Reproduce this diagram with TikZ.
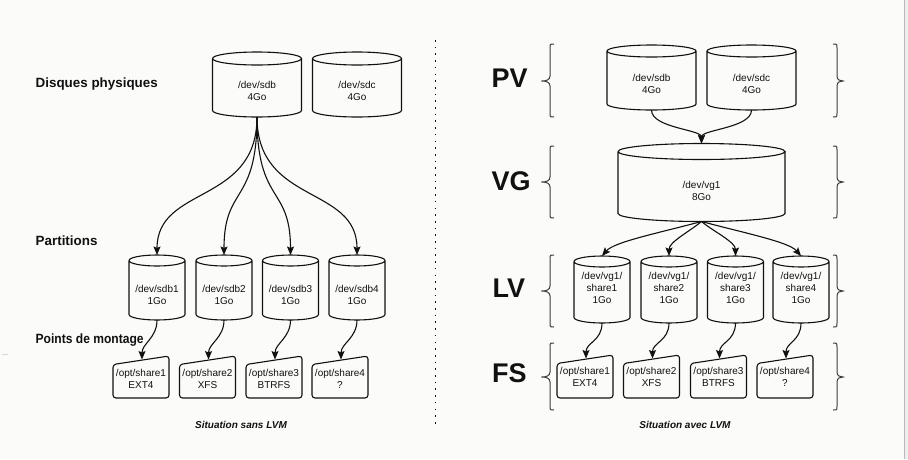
\documentclass[tikz,border=0pt]{standalone}
\usepackage{fontspec}
\setmainfont{Liberation Sans}
\usetikzlibrary{arrows.meta,calc}

\definecolor{paper}{RGB}{251,251,249}
\definecolor{ink}{RGB}{17,17,17}
\definecolor{bracecol}{RGB}{60,60,60}
\definecolor{edgeline}{RGB}{185,185,185}
\definecolor{edgefill}{RGB}{238,238,238}
\definecolor{faint}{RGB}{215,215,215}

% cylinder outline around a named node; #2 = half height of the ellipses (pt)
\newcommand\drawdisk[2]{%
  \draw[outline] let \p1=(#1.north west), \p2=(#1.south east), \n1={(\x2-\x1)/2} in
    ({\x1},{\y1-#2pt}) arc[start angle=180, end angle=-180, x radius=\n1, y radius=#2pt]
    ({\x1},{\y1-#2pt}) -- ({\x1},{\y2+#2pt})
      arc[start angle=180, end angle=360, x radius=\n1, y radius=#2pt]
      -- ({\x2},{\y1-#2pt});
}
% mount point box with slanted top edge
\newcommand\drawmount[1]{%
  \draw[outline, rounded corners=3pt] let \p1=(#1.north west), \p2=(#1.south east) in
    ({\x1},{\y1-8.5pt}) -- ({\x2},{\y1}) -- ({\x2},{\y2}) -- ({\x1},{\y2}) -- cycle;
}
% curly braces: top, middle, bottom
\newcommand\leftbrace[3]{%
  \draw[bracket] (554,#1) .. controls (550,#1) .. (550,#1+4) -- (550,#2-5)
    .. controls (550,#2-1) and (546,#2) .. (541.5,#2)
    .. controls (546,#2) and (550,#2+1) .. (550,#2+5)
    -- (550,#3-4) .. controls (550,#3) .. (554,#3);
}
\newcommand\rightbrace[3]{%
  \draw[bracket] (833,#1) .. controls (837,#1) .. (837,#1+4) -- (837,#2-5)
    .. controls (837,#2-1) and (840,#2) .. (843,#2)
    .. controls (840,#2) and (837,#2+1) .. (837,#2+5)
    -- (837,#3-4) .. controls (837,#3) .. (833,#3);
}

\tikzset{
  outline/.style={draw=ink, line width=1.1pt},
  bracket/.style={draw=bracecol, line width=1pt},
  disk/.style 2 args={minimum width=#1, minimum height=#2, inner sep=0pt, outer sep=0pt},
  lbl/.style={font=\fontsize{10}{12}\selectfont, align=center, inner sep=0pt, text=ink},
  flow/.style={draw=ink, line width=1.1pt, -{Stealth[length=8.5pt,width=7pt,inset=1.5pt]}},
  heading/.style={font=\fontsize{13.4}{16}\selectfont\bfseries, anchor=base west, inner sep=0pt, text=ink},
  layer/.style={font=\fontsize{27}{30}\selectfont\bfseries, anchor=base west, inner sep=0pt, text=ink},
  caption/.style={font=\fontsize{10}{12}\selectfont\bfseries\itshape, anchor=base, inner sep=0pt, text=ink},
}

\begin{document}
\begin{tikzpicture}[x=1pt,y=-1pt]
  \fill[paper] (0,0) rectangle (908,459);
  \useasboundingbox (0,0) rectangle (908,459);
  \fill[edgefill] (904,0) rectangle (908,459);
  \draw[edgeline, line width=1pt] (904.5,0) -- (904.5,459);
  \draw[faint, line width=1pt] (2,354.5) -- (8,354.5);

  % separator
  \draw[ink, line width=1.6pt, dash pattern=on 1.6pt off 5.1pt] (435.5,40) -- (435.5,425);

  % ---------- without LVM ----------
  \node[heading] (hdisk) at (35.5,87) {Disques physiques};
  \node[heading] (hpart) at (35.5,245.5) {Partitions};
  \node[heading] (hmnt) at (35.5,343.5) {\scalebox{0.9}[1]{Points de montage}};

  \node[disk={89pt}{65pt}, label={[lbl,yshift=-6.5pt]center:/dev/sdb\\4Go}] (sdb) at (257,84.5) {};
  \node[disk={89pt}{65pt}, label={[lbl,yshift=-6.5pt]center:/dev/sdc\\4Go}] (sdc) at (357,84.5) {};
  \drawdisk{sdb}{6.5}
  \drawdisk{sdc}{6.5}

  \foreach \i/\x in {1/157,2/224,3/290.5,4/357}{
    \node[disk={56pt}{65pt}, label={[lbl,yshift=-7.5pt]center:/dev/sdb\i\\1Go}] (p\i) at (\x,287.5) {};
    \drawdisk{p\i}{5.5}
  }
  \node[disk={56pt}{42pt}, label={[lbl,yshift=-1.5pt]center:/opt/share1\\EXT4}] (m1) at (141,377) {};
  \node[disk={56pt}{42pt}, label={[lbl,yshift=-1.5pt]center:/opt/share2\\XFS}] (m2) at (207.5,377) {};
  \node[disk={56pt}{42pt}, label={[lbl,yshift=-1.5pt]center:/opt/share3\\BTRFS}] (m3) at (274,377) {};
  \node[disk={56pt}{42pt}, label={[lbl,yshift=-1.5pt]center:/opt/share4\\?}] (m4) at (340,377) {};
  \foreach \i in {1,...,4}{\drawmount{m\i}}

  \foreach \i in {1,...,4}{
    \draw[flow] (sdb.south) .. controls +(0,88) and +(0,-70) .. (p\i.north);
    \draw[flow] (p\i.south) .. controls +(0,18) and +(0,-16) .. ($(m\i.north)+(1,3.5)$);
  }

  \node[caption] (capa) at (241,428) {Situation sans LVM};

  % ---------- with LVM ----------
  \node[layer] (lpv) at (491.5,87) {PV};
  \node[layer] (lvg) at (491.5,190) {VG};
  \node[layer] (llv) at (492.5,297) {LV};
  \node[layer] (lfs) at (492,382) {FS};

  \leftbrace{44}{81}{117}
  \leftbrace{146}{182}{218}
  \leftbrace{255}{291}{327}
  \leftbrace{343}{377}{410}
  \rightbrace{44}{81}{117}
  \rightbrace{146}{182}{218}
  \rightbrace{255}{291}{327}
  \rightbrace{343}{377}{410}

  \node[disk={89pt}{65pt}, label={[lbl,yshift=-6.5pt]center:/dev/sdb\\4Go}] (pvb) at (651.5,77.5) {};
  \node[disk={89pt}{65pt}, label={[lbl,yshift=-6.5pt]center:/dev/sdc\\4Go}] (pvc) at (751.5,77.5) {};
  \drawdisk{pvb}{6}
  \drawdisk{pvc}{6}

  \node[disk={167pt}{78pt}, label={[lbl,yshift=-8.5pt]center:/dev/vg1\\8Go}] (vg) at (701.5,182.5) {};
  \drawdisk{vg}{8}

  \draw[flow] (pvb.south) .. controls +(0,18) and +(0,-14) .. (vg.north);
  \draw[flow] (pvc.south) .. controls +(0,18) and +(0,-14) .. (vg.north);

  \foreach \i/\x in {1/602,2/669,3/735.5,4/801}{
    \node[disk={56pt}{67pt}, label={[lbl,yshift=2pt]center:/dev/vg1/\\share\i\\1Go}] (lv\i) at (\x,289.5) {};
    \drawdisk{lv\i}{5.5}
  }
  \node[disk={56pt}{43pt}, label={[lbl]center:/opt/share1\\EXT4}] (fs1) at (585,376.5) {};
  \node[disk={56pt}{43pt}, label={[lbl]center:/opt/share2\\XFS}] (fs2) at (651.5,376.5) {};
  \node[disk={56pt}{43pt}, label={[lbl]center:/opt/share3\\BTRFS}] (fs3) at (718.5,376.5) {};
  \node[disk={56pt}{43pt}, label={[lbl]center:/opt/share4\\?}] (fs4) at (785,376.5) {};
  \foreach \i in {1,...,4}{\drawmount{fs\i}}

  \draw[flow] (vg.south) .. controls +(-45,12) and +(12,-14) .. (lv1.north);
  \draw[flow] (vg.south) .. controls +(-12,10) and +(0,-14) .. (lv2.north);
  \draw[flow] (vg.south) .. controls +(12,10) and +(0,-14) .. (lv3.north);
  \draw[flow] (vg.south) .. controls +(45,12) and +(-12,-14) .. (lv4.north);

  \foreach \i in {1,...,4}{
    \draw[flow] (lv\i.south) .. controls +(0,18) and +(0,-16) .. ($(fs\i.north)+(1,3.5)$);
  }

  \node[caption] (capb) at (685,428) {Situation avec LVM};
\end{tikzpicture}
\end{document}
